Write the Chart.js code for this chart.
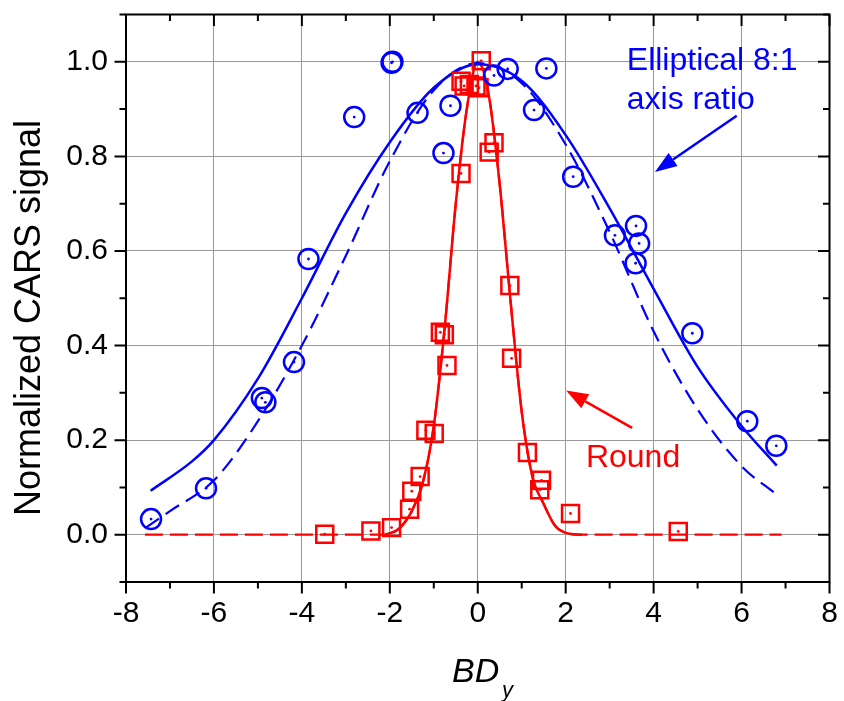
<!DOCTYPE html>
<html>
<head>
<meta charset="utf-8">
<script src="https://cdn.jsdelivr.net/npm/chart.js@4"></script>
<style>
  body { margin: 0; background: #ffffff; }
  #wrap { width: 844px; height: 701px; }
</style>
</head>
<body>
<div id="wrap"><canvas id="carsChart" width="844" height="701"></canvas></div>
<script>
// measured points, elliptical 8:1 beam (blue circles)
const ellX = [-7.43, -6.18, -4.91, -4.83, -4.18, -3.85, -2.81, -1.96, -1.94, -1.37, -0.78, -0.62, 0.37, 0.68, 1.28, 1.56, 2.17, 3.12, 3.60, 3.67, 3.59, 4.88, 6.13, 6.79];
const ellY = [0.033, 0.098, 0.289, 0.280, 0.365, 0.583, 0.883, 0.998, 1.000, 0.892, 0.807, 0.907, 0.971, 0.985, 0.898, 0.986, 0.757, 0.633, 0.653, 0.616, 0.574, 0.426, 0.240, 0.188];

// measured points, round beam (red squares)
const roundX = [-3.48, -2.43, -1.96, -1.55, -1.50, -1.31, -1.18, -0.99, -0.85, -0.76, -0.70, -0.38, -0.38, -0.31, -0.19, -0.04, 0.03, 0.08, 0.26, 0.37, 0.73, 0.77, 1.13, 1.41, 1.45, 2.11, 4.56];
const roundY = [0.001, 0.008, 0.015, 0.054, 0.092, 0.123, 0.221, 0.214, 0.428, 0.423, 0.358, 0.764, 0.959, 0.949, 0.952, 0.949, 0.945, 1.002, 0.809, 0.829, 0.527, 0.373, 0.174, 0.095, 0.115, 0.045, 0.007];

// curves
const ellFitX = [-7.44, -6.5, -6.0, -5.0, -4.0, -3.0, -2.0, -1.0, 0.0, 1.0, 2.0, 3.0, 4.0, 5.0, 6.0, 6.8];
const ellFitY = [0.093, 0.155, 0.20, 0.33, 0.50, 0.68, 0.83, 0.945, 0.995, 0.96, 0.845, 0.69, 0.52, 0.355, 0.23, 0.146];

const ellDashX = [-7.55, -7.0, -6.0, -5.0, -4.0, -3.0, -2.0, -1.0, 0.0, 1.0, 2.0, 3.0, 4.0, 5.0, 6.0, 6.8];
const ellDashY = [0.015, 0.05, 0.115, 0.24, 0.40, 0.59, 0.79, 0.94, 0.997, 0.955, 0.825, 0.64, 0.43, 0.265, 0.145, 0.085];

const roundFitX = [-2.1, -1.8, -1.5, -1.25, -1.0, -0.75, -0.5, -0.25, 0.0, 0.25, 0.5, 0.75, 1.0, 1.25, 1.5, 1.75, 2.0, 2.37];
const roundFitY = [0.0, 0.012, 0.05, 0.11, 0.23, 0.44, 0.70, 0.90, 1.0, 0.93, 0.74, 0.49, 0.26, 0.12, 0.065, 0.02, 0.004, 0.0];

const roundDashX = [-7.57, -2.5, -2.1, -1.8, -1.5, -1.25, -1.0, -0.75, -0.5, -0.25, 0.0, 0.25, 0.5, 0.75, 1.0, 1.25, 1.5, 1.75, 2.0, 2.4, 6.91];
const roundDashY = [0.0, 0.0, 0.0, 0.012, 0.05, 0.11, 0.23, 0.44, 0.70, 0.90, 1.0, 0.93, 0.74, 0.49, 0.26, 0.12, 0.065, 0.02, 0.004, 0.0, 0.0];

const xTickLabels = [-8, -6, -4, -2, 0, 2, 4, 6, 8];
const yTickLabels = ['0.0', '0.2', '0.4', '0.6', '0.8', '1.0'];

const BLUE = '#0000ff';
const RED = '#ff0000';
const FONT = "'Liberation Sans', Arial, sans-serif";

function pts(xs, ys) {
    return xs.map((x, i) => ({ x: x, y: ys[i] }));
}

// frame, ticks, centre dots, annotations and axis titles
const decorations = {
    id: 'decorations',
    afterDatasetsDraw(chart) {
        const ctx = chart.ctx;
        const a = chart.chartArea;
        const xs = chart.scales.x;
        const ys = chart.scales.y;

        // dots in the middle of every marker
        chart.data.datasets.forEach((ds, i) => {
            if (ds.showLine) return;
            const meta = chart.getDatasetMeta(i);
            ctx.fillStyle = ds.borderColor;
            meta.data.forEach(p => {
                ctx.beginPath();
                ctx.arc(p.x, p.y, 1.4, 0, Math.PI * 2);
                ctx.fill();
            });
        });

        ctx.save();
        ctx.strokeStyle = '#000';
        ctx.lineWidth = 2;
        ctx.strokeRect(a.left, a.top, a.right - a.left, a.bottom - a.top);

        ctx.beginPath();
        for (let v = -8; v <= 8; v++) {
            const px = xs.getPixelForValue(v);
            const len = v % 2 === 0 ? 11.5 : 6.5;
            ctx.moveTo(px, a.bottom); ctx.lineTo(px, a.bottom + len);
            ctx.moveTo(px, a.top); ctx.lineTo(px, a.top + len);
        }
        for (let k = -1; k <= 11; k++) {
            const py = ys.getPixelForValue(k / 10);
            const len = k % 2 === 0 ? 11.5 : 6.5;
            ctx.moveTo(a.left, py); ctx.lineTo(a.left - len, py);
            ctx.moveTo(a.right, py); ctx.lineTo(a.right - len, py);
        }
        ctx.stroke();

        // arrows
        function arrow(x0, y0, x1, y1, color) {
            const p0x = xs.getPixelForValue(x0), p0y = ys.getPixelForValue(y0);
            const p1x = xs.getPixelForValue(x1), p1y = ys.getPixelForValue(y1);
            const ang = Math.atan2(p1y - p0y, p1x - p0x);
            const hl = 22, hw = 8;
            const bx = p1x - hl * Math.cos(ang), by = p1y - hl * Math.sin(ang);
            ctx.strokeStyle = color;
            ctx.fillStyle = color;
            ctx.lineWidth = 2.5;
            ctx.beginPath();
            ctx.moveTo(p0x, p0y);
            ctx.lineTo(bx, by);
            ctx.stroke();
            ctx.beginPath();
            ctx.moveTo(p1x, p1y);
            ctx.lineTo(bx + hw * Math.sin(ang), by - hw * Math.cos(ang));
            ctx.lineTo(bx - hw * Math.sin(ang), by + hw * Math.cos(ang));
            ctx.closePath();
            ctx.fill();
        }
        arrow(5.89, 0.886, 4.03, 0.767, BLUE);
        arrow(3.51, 0.226, 2.01, 0.305, RED);

        ctx.textAlign = 'left';
        ctx.textBaseline = 'alphabetic';
        ctx.font = '32px ' + FONT;
        ctx.fillStyle = BLUE;
        ctx.fillText('Elliptical 8:1', xs.getPixelForValue(3.39), ys.getPixelForValue(0.983));
        ctx.fillText('axis ratio', xs.getPixelForValue(3.39), ys.getPixelForValue(0.901));
        ctx.fillStyle = RED;
        ctx.fillText('Round', xs.getPixelForValue(2.46), ys.getPixelForValue(0.144));

        // axis titles
        ctx.fillStyle = '#000';
        ctx.font = 'italic 34px ' + FONT;
        ctx.fillText('BD', 452, 682);
        ctx.font = 'italic 22px ' + FONT;
        ctx.fillText('y', 502, 697);

        ctx.translate(40, 318);
        ctx.rotate(-Math.PI / 2);
        ctx.textAlign = 'center';
        ctx.font = '36px ' + FONT;
        ctx.fillText('Normalized CARS signal', 0, 0);
        ctx.restore();
    }
};

const ctx = document.getElementById('carsChart').getContext('2d');

new Chart(ctx, {
    type: 'scatter',
    data: {
        datasets: [
            {
                label: 'Elliptical 8:1',
                data: pts(ellX, ellY),
                showLine: false,
                borderColor: BLUE,
                backgroundColor: 'rgba(0,0,0,0)',
                pointStyle: 'circle',
                pointRadius: 10,
                pointBorderWidth: 2.5
            },
            {
                label: 'Round',
                data: pts(roundX, roundY),
                showLine: false,
                borderColor: RED,
                backgroundColor: 'rgba(0,0,0,0)',
                pointStyle: 'rect',
                pointRadius: 12,
                pointBorderWidth: 2.5
            },
            {
                label: 'Elliptical fit',
                data: pts(ellFitX, ellFitY),
                showLine: true,
                borderColor: BLUE,
                borderWidth: 2.5,
                pointRadius: 0,
                cubicInterpolationMode: 'monotone'
            },
            {
                label: 'Elliptical model',
                data: pts(ellDashX, ellDashY),
                showLine: true,
                borderColor: BLUE,
                borderWidth: 2.2,
                borderDash: [16, 8],
                pointRadius: 0,
                cubicInterpolationMode: 'monotone'
            },
            {
                label: 'Round fit',
                data: pts(roundFitX, roundFitY),
                showLine: true,
                borderColor: RED,
                borderWidth: 2.5,
                pointRadius: 0,
                cubicInterpolationMode: 'monotone'
            },
            {
                label: 'Round model',
                data: pts(roundDashX, roundDashY),
                showLine: true,
                borderColor: RED,
                borderWidth: 2.2,
                borderDash: [18, 7],
                pointRadius: 0,
                cubicInterpolationMode: 'monotone'
            }
        ]
    },
    options: {
        responsive: false,
        animation: false,
        layout: { padding: { top: 8, right: 12, left: 0, bottom: 0 } },
        plugins: {
            legend: { display: false },
            tooltip: { enabled: false }
        },
        scales: {
            x: {
                type: 'linear',
                min: -8,
                max: 8,
                afterFit(scale) {
                    scale.height = 119;
                    scale.paddingLeft = 0;
                    scale.paddingRight = 0;
                },
                border: { display: true, color: '#000', width: 2 },
                grid: {
                    drawTicks: false,
                    lineWidth: 1,
                    color: c => (c.tick && c.tick.value % 2 === 0 && Math.abs(c.tick.value) !== 8) ? '#9a9a9a' : 'rgba(0,0,0,0)'
                },
                ticks: {
                    stepSize: 1,
                    autoSkip: false,
                    maxRotation: 0,
                    padding: 14,
                    color: '#000',
                    font: { family: FONT, size: 30 },
                    callback: v => xTickLabels.includes(v) ? String(v) : ''
                }
            },
            y: {
                type: 'linear',
                min: -0.1,
                max: 1.1,
                afterFit(scale) {
                    scale.width = 126;
                    scale.paddingTop = 0;
                    scale.paddingBottom = 0;
                },
                border: { display: true, color: '#000', width: 2 },
                grid: {
                    drawTicks: false,
                    lineWidth: 1,
                    color: c => {
                        const k = Math.round(c.tick.value * 10);
                        return (k % 2 === 0 && k >= 0 && k <= 10) ? '#9a9a9a' : 'rgba(0,0,0,0)';
                    }
                },
                ticks: {
                    stepSize: 0.1,
                    autoSkip: false,
                    padding: 18,
                    color: '#000',
                    font: { family: FONT, size: 30 },
                    callback: v => {
                        const k = Math.round(v * 10);
                        return (k % 2 === 0 && k >= 0 && k <= 10) ? yTickLabels[k / 2] : '';
                    }
                }
            }
        }
    },
    plugins: [decorations]
});
</script>
</body>
</html>
